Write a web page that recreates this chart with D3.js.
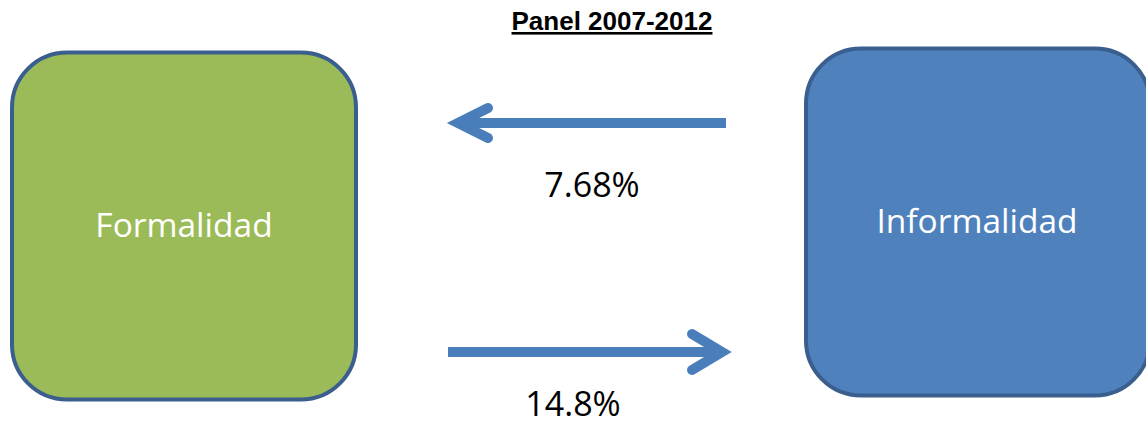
<!DOCTYPE html>
<html>
<head>
<meta charset="utf-8">
<script src="https://cdn.jsdelivr.net/npm/d3@7"></script>
<style>
  body { margin: 0; background: #fff; }
  svg { display: block; }
</style>
</head>
<body>
<svg id="chart" width="1146" height="425"></svg>
<script>
// data
const title = 'Panel 2007-2012';
const states = ['Formalidad', 'Informalidad'];
const stateColors = ['#9BBB59', '#4F81BD'];
const flowFrom = ['Informalidad', 'Formalidad'];
const flowTo = ['Formalidad', 'Informalidad'];
const flowLabels = ['7.68%', '14.8%'];

const svg = d3.select('#chart');

const boxW = 344, boxH = 347, arrowColor = '#4A7EBB';

// centres of the two boxes
const xScale = d3.scalePoint()
  .domain(states)
  .range([184, 978]);
const yBox = [226, 222];
const textDx = [0, -1];

// rows for the two arrows
const yFlow = d3.scalePoint()
  .domain(flowLabels)
  .range([123, 352]);

svg.append('text')
  .attr('x', 612)
  .attr('y', 30)
  .attr('text-anchor', 'middle')
  .style('font-family', '"Liberation Sans", Arial, sans-serif')
  .style('font-weight', 'bold')
  .style('font-size', '26px')
  .style('text-decoration', 'underline')
  .text(title);

const boxes = svg.selectAll('g.box').data(states)
  .enter().append('g')
  .attr('class', 'box')
  .attr('transform', (d, i) => `translate(${xScale(d)},${yBox[i]})`);

boxes.append('rect')
  .attr('x', -boxW / 2)
  .attr('y', -boxH / 2)
  .attr('width', boxW)
  .attr('height', boxH)
  .attr('rx', 55)
  .attr('ry', 55)
  .attr('fill', (d, i) => stateColors[i])
  .attr('stroke', '#3A5F8E')
  .attr('stroke-width', 4);

boxes.append('text')
  .attr('x', (d, i) => textDx[i])
  .attr('y', 11)
  .attr('text-anchor', 'middle')
  .attr('fill', '#fff')
  .style('font-family', '"Open Sans", sans-serif')
  .style('font-size', '33.5px')
  .text(d => d);

// arrows run between the inner edges of the boxes
const arrowX = d3.scaleLinear().domain([0, 1]).range([448, 726]);

const arrows = svg.selectAll('g.flow').data(flowLabels)
  .enter().append('g')
  .attr('class', 'flow');

arrows.each(function (d, i) {
  const g = d3.select(this);
  const y = yFlow(d);
  const toRight = xScale(flowTo[i]) > xScale(flowFrom[i]);
  const dir = toRight ? 1 : -1;
  const start = toRight ? arrowX(0) : arrowX(1);
  const tip = toRight ? arrowX(1) - 4 : arrowX(0) + 10;
  const armX = tip - dir * 30;
  const armY = toRight ? 18 : 15;

  g.append('line')
    .attr('x1', start)
    .attr('x2', tip - dir * 4)
    .attr('y1', y)
    .attr('y2', y)
    .attr('stroke', arrowColor)
    .attr('stroke-width', 10);

  g.append('path')
    .attr('d', d3.line()([[armX, y - armY], [tip, y], [armX, y + armY]]))
    .attr('fill', 'none')
    .attr('stroke', arrowColor)
    .attr('stroke-width', 10)
    .attr('stroke-linecap', 'round')
    .attr('stroke-linejoin', 'miter');

  g.append('text')
    .attr('x', i === 0 ? 592 : 573)
    .attr('y', y + (i === 0 ? 74 : 64))
    .attr('text-anchor', 'middle')
    .attr('fill', '#000')
    .style('font-family', '"Open Sans", sans-serif')
    .style('font-size', '34px')
    .text(d);
});
</script>
</body>
</html>
